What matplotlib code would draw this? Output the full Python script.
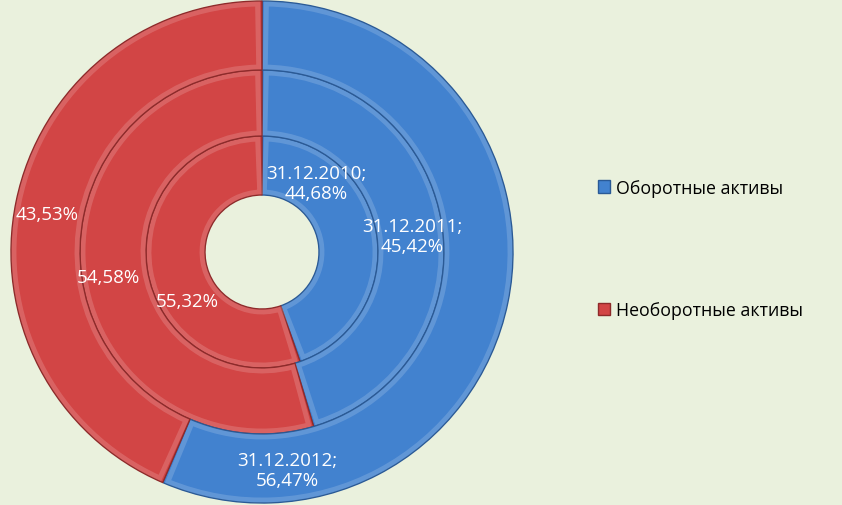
import matplotlib
matplotlib.use("Agg")
import matplotlib.pyplot as plt
from matplotlib.patches import Patch, Wedge

# Data
categories = ["Оборотные активы", "Необоротные активы"]
years = ["31.12.2010", "31.12.2011", "31.12.2012"]
current_assets = [44.68, 45.42, 56.47]
noncurrent_assets = [55.32, 54.58, 43.53]

colors = ["#4282cf", "#d24545"]
edges = ["#2a5a96", "#8e2a2a"]
bg = "#eaf1dd"

W, H = 842, 506
fig = plt.figure(figsize=(W / 100, H / 100), dpi=100, facecolor=bg)
ax = fig.add_axes([0, 0, 1, 1])
ax.set_facecolor(bg)

cx, cy = 262, 253
radii = [116, 182, 251]   # outer radius for each ring (inner -> outer)
hole = 57
for i in range(3):
    r = radii[i]
    width = r - (radii[i - 1] if i > 0 else hole)
    wedges, _ = ax.pie([current_assets[i], noncurrent_assets[i]], radius=r, center=(cx, cy),
                       startangle=90, counterclock=False, colors=colors,
                       wedgeprops=dict(width=width, linewidth=1.0))
    for w, ec in zip(wedges, edges):
        w.set_edgecolor(ec)
        # soft bevel highlight
        d = 3
        dang = d / r * 57.3
        hl = Wedge((cx, cy), r - d, w.theta1 + dang * 1.5, w.theta2 - dang * 1.5,
                   width=width - 2 * d, facecolor="none", edgecolor="white",
                   alpha=0.16, linewidth=3.5)
        ax.add_patch(hl)

ax.set_xlim(0, W)
ax.set_ylim(0, H)
ax.set_aspect("equal")
ax.axis("off")

def fmt(v):
    return f"{v:.2f}".replace(".", ",") + "%"

tc = "white"
fs = 13.5
font = "Open Sans"
# label positions (pixel coords, y from top)
lab_pos_blue = [(316, 184), (412, 237), (287, 471)]
lab_pos_red = [(187, 302), (108, 278), (47, 215)]
for i in range(3):
    x, y = lab_pos_blue[i]
    ax.text(x, H - y, f"{years[i]};\n{fmt(current_assets[i])}", color=tc, fontsize=fs,
            family=font, ha="center", va="center", linespacing=1.2)
    x, y = lab_pos_red[i]
    ax.text(x, H - y, fmt(noncurrent_assets[i]), color=tc, fontsize=fs,
            family=font, ha="center", va="center")

handles = [Patch(facecolor=c, edgecolor=e) for c, e in zip(colors, edges)]
leg = fig.legend(handles, categories, loc="center left", bbox_to_anchor=(582 / W, 1 - 250 / H),
                 frameon=False, prop=dict(family=font, size=12.8), handlelength=0.7,
                 handleheight=0.7, handletextpad=0.3, labelspacing=5.9)

fig.savefig("out.png", dpi=100, facecolor=bg)
